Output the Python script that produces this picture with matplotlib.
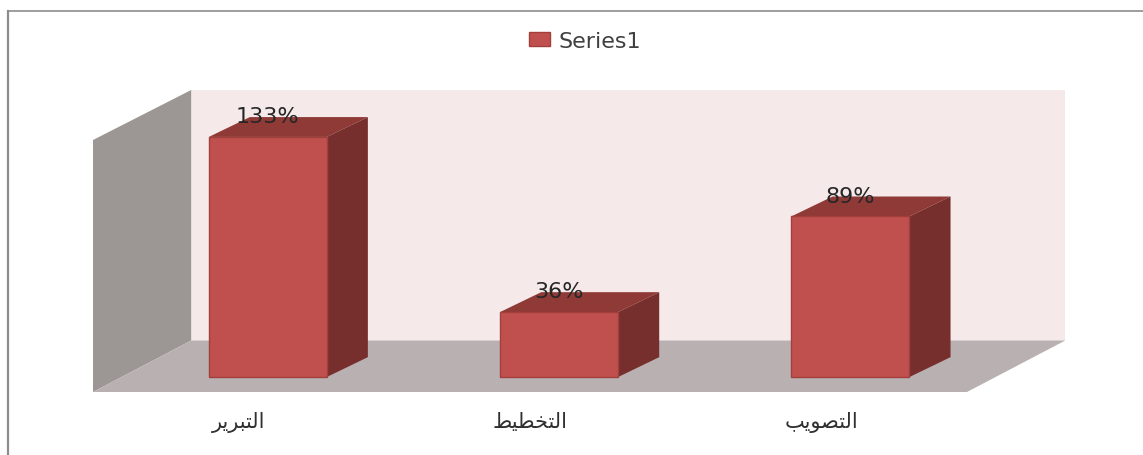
import matplotlib
matplotlib.use('Agg')
import matplotlib.pyplot as plt
from matplotlib.patches import Polygon
from matplotlib.lines import Line2D

# presentation forms in visual order, matplotlib does no arabic shaping
categories = ['\ufeae\ufef3\ufeae\ufe92\ufe98\ufedf\ufe8d',
              '\ufec2\ufef4\ufec4\ufea8\ufe98\ufedf\ufe8d',
              '\ufe90\ufef3\ufeee\ufebc\ufe98\ufedf\ufe8d']
values = [133, 36, 89]
value_labels = ['133%', '36%', '89%']
series_name = 'Series1'

W, H = 1143, 456
fig = plt.figure(figsize=(W/100, H/100), dpi=100)

# frame of the chart area, runs off the picture on the right and bottom
fig.add_artist(Line2D([8/W, 8/W], [0, 1-12/H], color='#8c8c8c', lw=1.6))
fig.add_artist(Line2D([8/W, 1], [1-12/H, 1-12/H], color='#8c8c8c', lw=1.2))

ax = fig.add_axes([93/W, 1-393/H, 874/W, 302/H])
# bars sit in front of the floor, shifted right of their tick labels
ax.set_xlim(-0.6, 2.4)
ax.set_ylim(-8.3, 159)
ax.patch.set_visible(False)
for s in ax.spines.values():
    s.set_visible(False)

bar_width = 0.405
dx = 0.141    # depth of a bar in x units
dy = 11.0     # depth of a bar in percent units

# walls and floor
x0, x1 = ax.get_xlim()
y0, y1 = ax.get_ylim()
wall_dx = 0.337
wall_dy = 28.5
wall_top = 131.3
ax.add_patch(Polygon([(x0+wall_dx, y0+wall_dy), (x1+wall_dx, y0+wall_dy),
                      (x1+wall_dx, y1), (x0+wall_dx, y1)],
                     fc='#f5e9e9', ec='none', clip_on=False, zorder=1))
ax.add_patch(Polygon([(x0, y0), (x0+wall_dx, y0+wall_dy), (x0+wall_dx, y1), (x0, wall_top)],
                     fc='#9c9695', ec='none', clip_on=False, zorder=1))
ax.add_patch(Polygon([(x0, y0), (x1, y0), (x1+wall_dx, y0+wall_dy), (x0+wall_dx, y0+wall_dy)],
                     fc='#b9b0b1', ec='none', clip_on=False, zorder=2))

bars = ax.bar(range(3), values, width=bar_width, color='#c0504d', edgecolor='#a23f3c',
              linewidth=1, label=series_name, zorder=4)

# fake 3d: top and side faces from each bar
for b in bars:
    l = b.get_x()
    r = l + b.get_width()
    h = b.get_height()
    ax.add_patch(Polygon([(l, h), (r, h), (r+dx, h+dy), (l+dx, h+dy)],
                         fc='#8f3a37', ec='none', zorder=3))
    ax.add_patch(Polygon([(r, 0), (r+dx, dy), (r+dx, h+dy), (r, h)],
                         fc='#772f2d', ec='none', zorder=3))

for i in range(3):
    ax.text(i, values[i]+11.5, value_labels[i], ha='center', va='center',
            fontsize=16, color='#262626', zorder=5)

ax.set_xticks([i-0.1 for i in range(3)])
ax.set_xticklabels(categories, fontsize=15, color='#303030')
ax.tick_params(axis='x', length=0, pad=14)
ax.set_yticks([])

ax.legend(loc='center', bbox_to_anchor=(585/W, 1-42/H), bbox_transform=fig.transFigure,
          frameon=False, fontsize=16, handlelength=0.95, handleheight=0.55,
          handletextpad=0.35, labelcolor='#404040')

fig.savefig('out.png', dpi=100)
